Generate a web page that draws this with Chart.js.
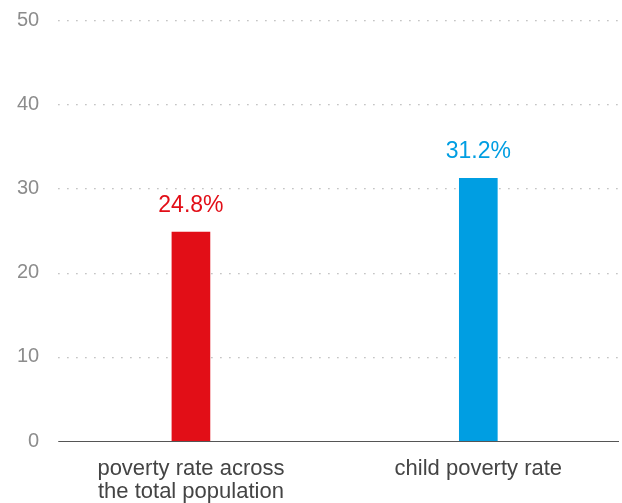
<!DOCTYPE html>
<html>
<head>
<meta charset="utf-8">
<script src="https://cdn.jsdelivr.net/npm/chart.js@4/dist/chart.umd.min.js"></script>
<style>
  html, body { margin: 0; padding: 0; background: #fff; }
  #wrap { width: 622px; height: 503px; }
</style>
</head>
<body>
<div id="wrap"><canvas id="barChart"></canvas></div>
<script>
// data
const categories = [['poverty rate across', 'the total population'], 'child poverty rate'];
const rates = [24.8, 31.2];
const barColors = ['#e20e17', '#009ee2'];
const yTicks = [0, 10, 20, 30, 40, 50];

const fontName = '"Liberation Sans", Arial, sans-serif';

//dotted grid lines + solid baseline, start a bit right of the axis like the original
const gridPlugin = {
    id: 'gridPlugin',
    beforeDatasetsDraw(chart) {
        const ctx = chart.ctx;
        const y = chart.scales.y;
        const area = chart.chartArea;
        const x0 = area.left + 11;
        ctx.save();
        yTicks.forEach(v => {
            const py = Math.round(y.getPixelForValue(v));
            if (v === 0) {
                ctx.strokeStyle = '#555555';
                ctx.lineWidth = 1.2;
                ctx.beginPath();
                ctx.moveTo(x0, py + 0.5);
                ctx.lineTo(area.right - 3, py + 0.5);
                ctx.stroke();
            } else {
                ctx.fillStyle = '#b3b3b3';
                for (let px = x0; px < area.right - 2; px += 9) {
                    ctx.fillRect(px, py, 1.3, 1.3);
                }
            }
        });
        ctx.restore();
    }
};

//value labels above bars in the bar colour
const valuePlugin = {
    id: 'valuePlugin',
    afterDatasetsDraw(chart) {
        const ctx = chart.ctx;
        const meta = chart.getDatasetMeta(0);
        ctx.save();
        ctx.font = '23px ' + fontName;
        ctx.textAlign = 'center';
        ctx.textBaseline = 'alphabetic';
        meta.data.forEach((bar, i) => {
            ctx.fillStyle = barColors[i];
            ctx.fillText(rates[i].toFixed(1) + '%', bar.x, bar.y - 20);
        });
        ctx.restore();
    }
};

new Chart(document.getElementById('barChart'), {
    type: 'bar',
    data: {
        labels: categories,
        datasets: [{
            data: rates,
            backgroundColor: barColors,
            barThickness: 38,
            borderWidth: 0
        }]
    },
    options: {
        responsive: true,
        maintainAspectRatio: false,
        animation: false,
        layout: {
            padding: { left: 9, right: 0, top: 9, bottom: 0 }
        },
        scales: {
            x: {
                //fixed height so the baseline sits where it does in the original
                afterFit: (axis) => { axis.height = 62; },
                grid: { display: false, drawTicks: false },
                border: { display: false },
                ticks: {
                    color: '#444444',
                    font: { family: fontName, size: 22, lineHeight: 1.05 },
                    padding: 16,
                    maxRotation: 0
                }
            },
            y: {
                min: 0,
                max: 50,
                afterBuildTicks: (axis) => { axis.ticks = yTicks.map(v => ({ value: v })); },
                grid: { display: false, drawTicks: false },
                border: { display: false },
                ticks: {
                    color: '#8c8c8c',
                    font: { family: fontName, size: 20 },
                    padding: 8
                }
            }
        },
        plugins: {
            legend: { display: false },
            tooltip: { enabled: false }
        }
    },
    plugins: [gridPlugin, valuePlugin]
});
</script>
</body>
</html>
